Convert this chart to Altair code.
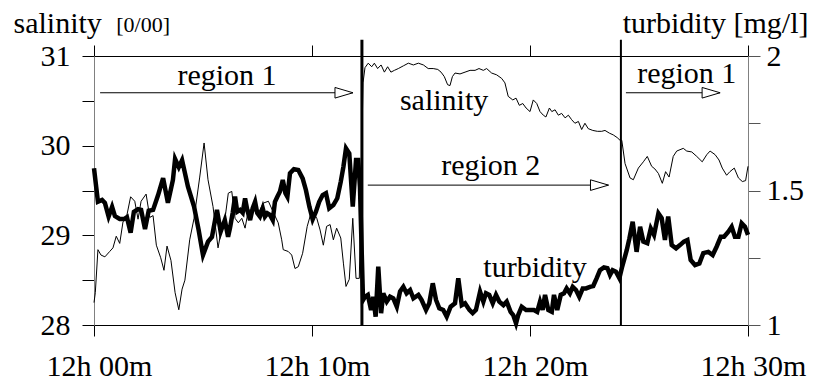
import altair as alt
import pandas as pd

FONT = "Times New Roman"

# ---------------- data (minutes after 12h00) ----------------
sal_t = [0.00, 0.06, 0.18, 0.32, 0.50, 0.72, 0.87, 1.02, 1.18, 1.33,
         1.48, 1.68, 1.87, 2.02, 2.16, 2.39, 2.56, 2.71, 2.86, 3.06,
         3.21, 3.35, 3.53, 3.72, 3.89, 4.04, 4.17, 4.39, 4.59, 4.85,
         5.05, 5.23, 5.46, 5.69, 5.84, 6.00, 6.16, 6.32, 6.47, 6.62,
         6.78, 6.93, 7.08, 7.31, 7.54, 7.77, 8.00, 8.22, 8.45, 8.61,
         8.68, 8.91, 9.07, 9.22, 9.37, 9.57, 9.78, 9.99, 10.22, 10.37,
         10.52, 10.67, 10.83, 10.98, 11.13, 11.32, 11.44, 11.56, 11.71, 11.87,
         12.02, 12.17,
         12.34, 12.43, 12.58, 12.74, 12.86, 13.01, 13.17, 13.32, 13.47, 13.62,
         13.78, 13.96, 14.19, 14.42, 14.65, 14.88, 15.11,
         15.33, 15.56, 15.77, 15.92, 16.07, 16.22, 16.33, 16.44, 16.56, 16.79,
         17.02, 17.25, 17.48, 17.66, 17.86, 18.01, 18.24, 18.47, 18.70, 18.85,
         19.00, 19.21, 19.36, 19.51, 19.67, 19.82, 20.00, 20.15, 20.31, 20.46,
         20.61, 20.73, 20.89, 21.00, 21.15, 21.30, 21.45, 21.61, 21.76, 21.91,
         22.06, 22.22, 22.37, 22.52, 22.67, 22.88, 23.09, 23.29, 23.44, 23.64,
         23.82, 24.00, 24.13, 24.21,
         24.36, 24.59, 24.74, 24.97, 25.20, 25.38, 25.58, 25.73, 25.89, 26.07,
         26.22, 26.38, 26.57, 26.73, 27.03, 27.19, 27.42, 27.65, 27.90, 28.11,
         28.26, 28.49, 28.67, 28.82, 29.02, 29.17, 29.37, 29.56, 29.74, 29.89,
         30.00]
sal_v = [28.25, 28.36, 28.84, 28.78, 28.76, 28.82, 28.86, 28.99, 28.91, 29.15,
         29.19, 29.43, 29.38, 29.18, 29.38, 29.46, 29.20, 29.22, 28.89, 28.75,
         28.61, 28.88, 28.72, 28.36, 28.17, 28.40, 28.50, 28.95, 29.19, 29.65,
         30.03, 29.62, 29.32, 28.86, 29.06, 29.17, 29.47, 29.49, 29.19, 29.14,
         29.19, 29.08, 29.28, 29.28, 29.25, 29.36, 29.38, 29.26, 29.14, 28.95,
         28.84, 28.82, 28.78, 28.63, 28.65, 28.80, 29.10, 29.28, 29.19, 29.06,
         28.89, 29.10, 29.12, 28.95, 29.08, 28.97, 28.69, 28.43, 28.51, 29.19,
         28.52, 28.52,
         30.70, 30.87, 30.92, 30.88, 30.92, 30.86, 30.90, 30.82, 30.88, 30.82,
         30.84, 30.86, 30.89, 30.92, 30.90, 30.92, 30.90,
         30.86, 30.86, 30.85, 30.82, 30.77, 30.68, 30.67, 30.77, 30.81, 30.80,
         30.82, 30.84, 30.84, 30.86, 30.84, 30.86, 30.81, 30.79, 30.75, 30.70,
         30.55, 30.51, 30.53, 30.45, 30.47, 30.42, 30.38, 30.51, 30.47, 30.38,
         30.34, 30.32, 30.42, 30.38, 30.40, 30.34, 30.36, 30.31, 30.34, 30.29,
         30.25, 30.27, 30.18, 30.25, 30.19, 30.17, 30.16, 30.16, 30.17, 30.14,
         30.12, 30.09, 30.06, 30.06,
         29.80, 29.64, 29.62, 29.75, 29.82, 29.88, 29.77, 29.74, 29.69, 29.58,
         29.71, 29.65, 29.88, 29.94, 29.97, 29.94, 29.93, 29.88, 29.82, 29.90,
         29.94, 29.90, 29.84, 29.75, 29.67, 29.71, 29.75, 29.64, 29.60, 29.61,
         29.77]

turb_t = [0.00, 0.18, 0.37, 0.50, 0.67, 0.83, 0.96, 1.18, 1.38, 1.51,
          1.68, 1.83, 2.02, 2.16, 2.34, 2.51, 2.71, 2.94, 3.17, 3.39,
          3.62, 3.72, 3.89, 4.04, 4.31, 4.59, 4.80, 5.00, 5.23, 5.41,
          5.64, 5.81, 6.00, 6.15, 6.24, 6.36, 6.47, 6.57, 6.70, 6.82,
          6.93, 7.03, 7.16, 7.28, 7.39, 7.49, 7.61, 7.74, 7.84, 7.95,
          8.07, 8.20, 8.30, 8.41, 8.53, 8.66, 8.78, 8.87, 8.99, 9.17,
          9.37, 9.57, 9.72, 9.88, 10.03, 10.18, 10.33, 10.49, 10.64, 10.79,
          10.98, 11.16, 11.32, 11.44, 11.56, 11.71, 11.87, 12.02, 12.12, 12.20,
          12.34, 12.43, 12.56, 12.71, 12.81, 12.92, 13.04, 13.17, 13.27, 13.43,
          13.58, 13.73, 13.89, 14.04, 14.19, 14.34, 14.50, 14.65, 14.88, 15.03,
          15.23, 15.38, 15.54, 15.69, 15.84, 16.02, 16.18, 16.36, 16.56, 16.71,
          16.87, 17.02, 17.22, 17.37, 17.52, 17.71, 17.86, 17.98, 18.13, 18.29,
          18.44, 18.59, 18.78, 18.93, 19.11, 19.23, 19.36, 19.46, 19.62, 19.82,
          20.00, 20.18, 20.33, 20.46, 20.58, 20.69, 20.84, 21.00, 21.10, 21.25,
          21.41, 21.56, 21.68, 21.83, 21.96, 22.11, 22.26, 22.42, 22.57, 22.75,
          22.90, 23.06, 23.21, 23.39, 23.55, 23.67, 23.79, 23.94, 24.10, 24.21,
          24.44, 24.56, 24.71, 24.89, 25.05, 25.20, 25.38, 25.54, 25.69, 25.89,
          26.04, 26.19, 26.34, 26.50, 26.70, 26.88, 27.06, 27.22, 27.37, 27.57,
          27.77, 27.95, 28.18, 28.38, 28.56, 28.75, 28.90, 29.10, 29.25, 29.40,
          29.56, 29.71, 29.86, 30.00]
turb_v = [1.583, 1.458, 1.465, 1.454, 1.403, 1.439, 1.405, 1.394, 1.394, 1.401,
          1.343, 1.421, 1.431, 1.428, 1.357, 1.425, 1.428, 1.483, 1.546, 1.454,
          1.539, 1.617, 1.587, 1.613, 1.514, 1.440, 1.353, 1.260, 1.310, 1.327,
          1.428, 1.347, 1.390, 1.328, 1.361, 1.416, 1.477, 1.421, 1.428, 1.417,
          1.471, 1.428, 1.390, 1.434, 1.458, 1.416, 1.403, 1.434, 1.403, 1.415,
          1.409, 1.390, 1.458, 1.477, 1.496, 1.539, 1.490, 1.477, 1.564, 1.579,
          1.576, 1.545, 1.502, 1.440, 1.393, 1.421, 1.458, 1.483, 1.490, 1.434,
          1.446, 1.471, 1.533, 1.588, 1.657, 1.638, 1.440, 1.613, 1.613, 1.514,
          1.093, 1.105, 1.112, 1.056, 1.105, 1.031, 1.217, 1.044, 1.118, 1.087,
          1.105, 1.099, 1.068, 1.125, 1.142, 1.118, 1.130, 1.099, 1.112, 1.093,
          1.056, 1.081, 1.155, 1.093, 1.062, 1.056, 1.031, 1.068, 1.081, 1.174,
          1.074, 1.081, 1.056, 1.044, 1.056, 1.124, 1.087, 1.118, 1.112, 1.081,
          1.112, 1.087, 1.074, 1.087, 1.049, 1.037, 1.006, 1.037, 1.068, 1.056,
          1.056, 1.056, 1.049, 1.087, 1.056, 1.112, 1.056, 1.049, 1.112, 1.056,
          1.112, 1.118, 1.136, 1.118, 1.142, 1.130, 1.105, 1.136, 1.136, 1.142,
          1.145, 1.174, 1.204, 1.214, 1.211, 1.186, 1.204, 1.198, 1.174, 1.211,
          1.279, 1.322, 1.384, 1.272, 1.365, 1.310, 1.304, 1.359, 1.335, 1.415,
          1.397, 1.316, 1.403, 1.297, 1.285, 1.297, 1.310, 1.316, 1.242, 1.223,
          1.229, 1.267, 1.272, 1.260, 1.291, 1.328, 1.328, 1.347, 1.365, 1.328,
          1.328, 1.378, 1.365, 1.335]

tick_minutes = [0, 10, 20, 30]
tick_labels = ["12h 00m", "12h 10m", "12h 20m", "12h 30m"]
sal_ticks = [28, 28.5, 29, 29.5, 30, 30.5, 31]
turb_ticks = [1, 1.25, 1.5, 1.75, 2]

bound_t = [12.29, 24.17]
bound_w = [3, 2]
bound_top = 31.18
bound_bottom = 28.0

label_text = ["region 1", "salinity", "region 2", "region 1", "turbidity"]
label_t = [6.10, 16.06, 18.20, 27.19, 20.23]
label_s = [30.68, 30.40, 29.67, 30.70, 28.54]

arrow_t0 = [0.28, 12.56, 24.40]
arrow_t1 = [11.88, 23.60, 28.72]
arrow_s = [30.59, 29.56, 30.59]

unit_text = ["[0/00]"]
unit_t = [1.02]
unit_s = [31.27]

# ---------------- frames ----------------
sal_df = pd.DataFrame(list(zip(sal_t, sal_v)), columns=["t", "v"])
turb_df = pd.DataFrame(list(zip(turb_t, turb_v)), columns=["t", "v"])
bound_df = pd.DataFrame({"t": bound_t, "w": bound_w,
                         "top": [bound_top] * len(bound_t),
                         "bottom": [bound_bottom] * len(bound_t)})
label_df = pd.DataFrame({"t": label_t, "s": label_s, "label": label_text})
arrow_df = pd.DataFrame({"t0": arrow_t0, "t1": arrow_t1, "s": arrow_s})
unit_df = pd.DataFrame({"t": unit_t, "s": unit_s, "label": unit_text})

x_scale = alt.Scale(domain=[0, 30], nice=False, zero=False)
sal_scale = alt.Scale(domain=[28, 31], nice=False, zero=False)
turb_scale = alt.Scale(domain=[1, 2], nice=False, zero=False)

x_expr = " : ".join(f"datum.value == {m} ? '{l}'" for m, l in zip(tick_minutes, tick_labels)) + " : ''"

bottom_axis = alt.Axis(orient="bottom", values=tick_minutes, labelExpr=x_expr, title=None,
                       grid=False, domainColor="black", tickColor="black", tickSize=11,
                       labelFont=FONT, labelFontSize=30, labelColor="black",
                       labelBaseline="alphabetic", labelPadding=39, labelOffset=5,
                       labelFlush=False, labelOverlap=False)
top_axis = alt.Axis(orient="top", values=tick_minutes, labels=False, title=None, grid=False,
                    domainColor="black", tickColor="black", tickSize=11)
left_axis = alt.Axis(orient="left", values=sal_ticks,
                     labelExpr="datum.value % 1 == 0 ? '' + datum.value : ''",
                     grid=False, domainColor="#808080", tickColor="black", tickSize=12,
                     labelFont=FONT, labelFontSize=30, labelColor="black", labelPadding=12,
                     labelBaseline="middle", labelOverlap=False, labelFlush=False,
                     title="salinity", titleAngle=0, titleX=-81, titleY=-24,
                     titleAlign="left", titleBaseline="alphabetic", titleFont=FONT,
                     titleFontSize=30, titleFontWeight="normal", titleColor="black")
right_axis = alt.Axis(orient="right", values=turb_ticks,
                      labelExpr="datum.value == 1.25 || datum.value == 1.75 ? '' : '' + datum.value",
                      grid=False, domainColor="#808080", tickColor="#555555", tickSize=12,
                      labelFont=FONT, labelFontSize=30, labelColor="black", labelPadding=6,
                      labelBaseline="middle", labelOverlap=False, labelFlush=False,
                      title="turbidity [mg/l]", titleAngle=0, titleX=60, titleY=-24,
                      titleAlign="right", titleBaseline="alphabetic", titleFont=FONT,
                      titleFontSize=30, titleFontWeight="normal", titleColor="black")

sal_line = alt.Chart(sal_df).mark_line(color="black", strokeWidth=1).encode(
    x=alt.X("t:Q", scale=x_scale, axis=bottom_axis),
    y=alt.Y("v:Q", scale=sal_scale, axis=left_axis),
    order="t:Q",
)
turb_line = alt.Chart(turb_df).mark_line(color="black", strokeWidth=4.5).encode(
    x=alt.X("t:Q", scale=x_scale, axis=top_axis),
    y=alt.Y("v:Q", scale=turb_scale, axis=right_axis),
    order="t:Q",
)
bounds = alt.Chart(bound_df).mark_rule(color="black").encode(
    x=alt.X("t:Q", scale=x_scale, axis=None),
    y=alt.Y("top:Q", scale=sal_scale, axis=None),
    y2="bottom:Q",
    strokeWidth=alt.StrokeWidth("w:Q", scale=None),
)
shafts = alt.Chart(arrow_df).mark_rule(color="black", strokeWidth=1).encode(
    x=alt.X("t0:Q", scale=x_scale, axis=None),
    x2="t1:Q",
    y=alt.Y("s:Q", scale=sal_scale, axis=None),
)
ARROW = "M-2,-0.59L0,0L-2,0.59Z"
heads = alt.Chart(arrow_df).mark_point(shape=ARROW, size=324, filled=True, fill="white",
                                       fillOpacity=1, stroke="black", strokeWidth=1,
                                       opacity=1).encode(
    x=alt.X("t1:Q", scale=x_scale, axis=None),
    y=alt.Y("s:Q", scale=sal_scale, axis=None),
)
labels = alt.Chart(label_df).mark_text(font=FONT, fontSize=30, align="center",
                                       baseline="alphabetic", color="black").encode(
    x=alt.X("t:Q", scale=x_scale, axis=None),
    y=alt.Y("s:Q", scale=sal_scale, axis=None),
    text="label:N",
)
unit = alt.Chart(unit_df).mark_text(font=FONT, fontSize=22, align="left",
                                    baseline="alphabetic", color="black").encode(
    x=alt.X("t:Q", scale=x_scale, axis=None),
    y=alt.Y("s:Q", scale=sal_scale, axis=None),
    text="label:N",
)

chart = alt.layer(sal_line, turb_line, bounds, shafts, heads, labels, unit).resolve_scale(
    y="independent"
).resolve_axis(
    x="independent", y="independent"
).properties(
    width=654, height=269,
    autosize=alt.AutoSizeParams(type="none"),
    padding={"left": 94, "top": 56, "right": 70, "bottom": 60},
    background="white",
).configure_view(strokeWidth=0)

chart.save("out.html", embed_options={"renderer": "svg", "actions": False})
